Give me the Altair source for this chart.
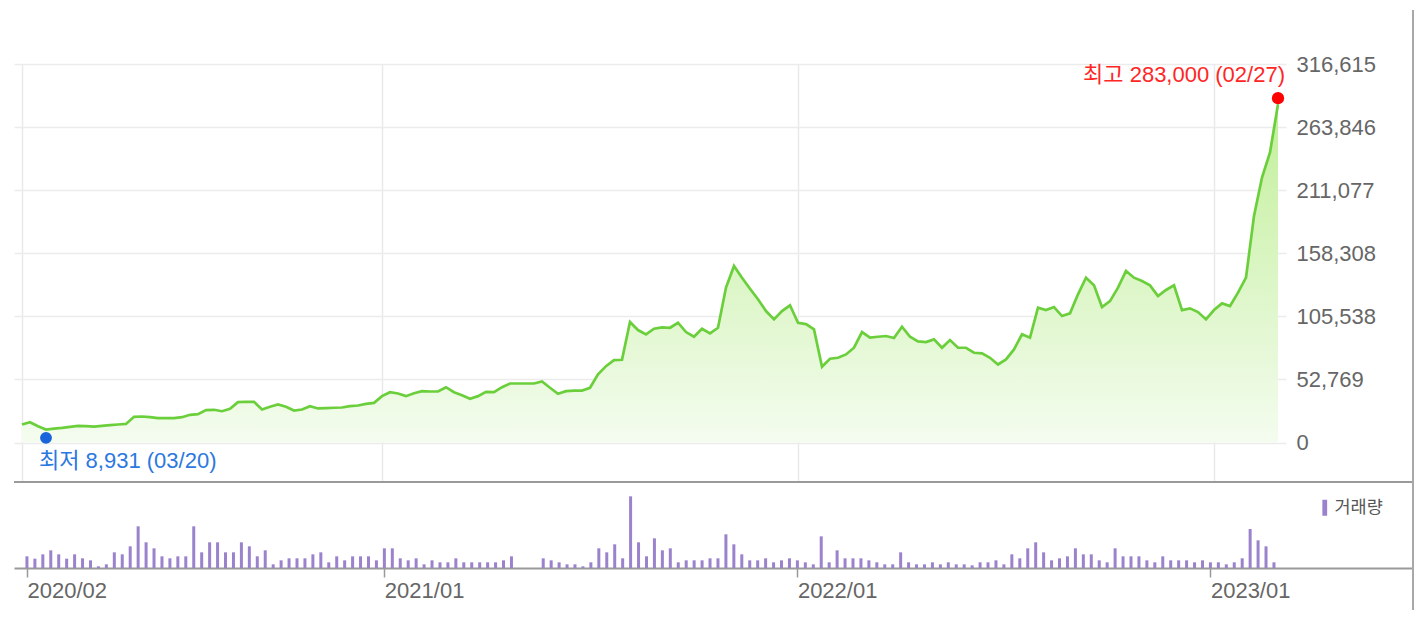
import altair as alt
import pandas as pd

# ---- data (weekly, week-start Mondays) ----
first_week = "2020-02-24"
prices = [
    15100, 17000, 13700, 10900, 11700, 12300, 13100, 14000, 13700, 13400,
    14000, 14500, 15100, 15600, 21500, 21800, 21200, 20400, 20400, 20400,
    21200, 23200, 23700, 27100, 27400, 26200, 28200, 33800, 34100, 34100,
    27600, 29900, 31800, 29900, 26800, 27600, 30400, 28500, 28800, 29100,
    29300, 30400, 31000, 32400, 33200, 38800, 42100, 41000, 38800, 41300,
    43000, 42700, 42700, 46300, 42100, 39600, 36600, 38800, 42400, 42100,
    46300, 49400, 49400, 49400, 49400, 51100, 45800, 40800, 43000, 43500,
    43500, 45800, 57000, 63900, 68900, 69200, 100800, 94100, 90500, 95200,
    96300, 96000, 100200, 92400, 88500, 95200, 91300, 96000, 129600, 147700,
    137900, 128700, 119800, 110000, 103000, 110000, 114800, 100200, 99100, 94600,
    63400, 70100, 70900, 73700, 79300, 92400, 87700, 88500, 89100, 87400,
    96900, 88500, 84600, 84000, 86300, 79300, 85700, 79300, 79300, 75100,
    74600, 70900, 65300, 69500, 77900, 90500, 87700, 112800, 110800, 113300,
    105800, 108100, 124000, 137900, 131500, 113300, 118300, 129600, 143500, 137900,
    135100, 131500, 122500, 127600, 131500, 110800, 112200, 109100, 103000, 110800,
    116400, 114200, 125400, 137900, 189600, 221700, 242600, 283000,
]
volumes = [
    350, 280, 410, 530, 410, 280, 410, 290, 230, 50,
    110, 470, 410, 650, 1250, 770, 590, 350, 290, 350,
    350, 1250, 470, 770, 770, 470, 470, 770, 650, 350,
    530, 110, 230, 290, 290, 290, 410, 470, 170, 350,
    230, 350, 350, 350, 230, 590, 590, 290, 230, 290,
    110, 230, 170, 170, 290, 170, 170, 170, 170, 170,
    230, 350, 0, 0, 0, 290, 230, 170, 110, 110,
    50, 170, 590, 470, 710, 290, 2150, 770, 350, 890,
    530, 590, 170, 230, 230, 230, 290, 290, 1010, 710,
    410, 230, 230, 290, 170, 230, 290, 230, 170, 110,
    950, 170, 530, 290, 290, 290, 230, 170, 110, 110,
    470, 170, 110, 110, 170, 110, 170, 110, 110, 80,
    170, 170, 230, 110, 410, 290, 590, 770, 470, 230,
    290, 350, 590, 410, 410, 230, 170, 590, 350, 350,
    350, 230, 170, 350, 230, 230, 230, 170, 230, 170,
    170, 110, 170, 290, 1170, 830, 650, 170,
]
volume_name = "거래량"
tick_dates = ["2020-02-24", "2021-01-04", "2022-01-03", "2023-01-02"]
y_ticks = [0, 52769, 105538, 158308, 211077, 263846, 316615]
y_min = -33000
high_week, high_value, high_day = "2023-02-27", 283000, "02/27"
low_week, low_value, low_day = "2020-03-16", 8931, "03/20"
vol_max = 2580

# ---- frames ----
weeks = pd.date_range(first_week, periods=len(prices), freq="7D")
df = pd.DataFrame({"week": weeks, "price": prices, "volume": volumes})
df["series"] = volume_name
high_df = pd.DataFrame({"week": [pd.Timestamp(high_week)], "price": [high_value],
                        "label": [f"최고 {high_value:,} ({high_day})"]})
low_df = pd.DataFrame({"week": [pd.Timestamp(low_week)], "price": [low_value],
                       "label": [f"최저 {low_value:,} ({low_day})"]})


def dt(ts):
    ts = pd.Timestamp(ts)
    return alt.DateTime(year=ts.year, month=ts.month, date=ts.day,
                        hours=ts.hour, minutes=ts.minute)


PW, PH = 1272, 418
VW, VH = 1399, 86
x_start = weeks[0] - pd.Timedelta(days=7)
x_end = weeks[-1] + pd.Timedelta(days=7)
x_end_vol = x_start + (x_end - x_start) * (VW / PW)
tick_dt = [dt(t) for t in tick_dates]

FONT = "Liberation Sans, Noto Sans CJK KR"

x_price = alt.X("week:T", scale=alt.Scale(domain=[dt(x_start), dt(x_end)]),
                axis=alt.Axis(values=tick_dt, labels=False, ticks=False, domain=False,
                              grid=True, gridColor="#e9e9e9", gridWidth=1.5, title=None))
y_price = alt.Y("price:Q",
                scale=alt.Scale(domain=[y_min, y_ticks[-1]], nice=False, zero=False),
                axis=alt.Axis(orient="right", values=y_ticks, format=",d", title=None,
                              ticks=False, tickSize=0, domain=False, labelPadding=10,
                              labelFontSize=22, labelFont=FONT, labelColor="#666666",
                              grid=True, gridColor="#ececec", gridWidth=1.5,
                              labelAlign="left", labelBaseline="middle"))

gradient = alt.Gradient(gradient="linear",
                        stops=[alt.GradientStop(color="#c2ef9a", offset=0),
                               alt.GradientStop(color="#f4fcef", offset=1)],
                        x1=0, x2=0, y1=0, y2=1)

base = alt.Chart(df).encode(x=x_price, y=y_price)
area = base.mark_area(color=gradient, opacity=1).encode(y2=alt.Y2Datum(0))
line = base.mark_line(color="#6bcf3c", strokeWidth=2.7)

high_pt = alt.Chart(high_df).mark_circle(size=150, color="#ff0000", opacity=1, yOffset=-6).encode(
    x="week:T", y="price:Q")
high_tx = alt.Chart(high_df).mark_text(align="right", baseline="middle", dx=7, dy=-29,
                                       fontSize=22, font=FONT, color="#ff2626").encode(
    x="week:T", y="price:Q", text="label:N")
low_pt = alt.Chart(low_df).mark_circle(size=140, color="#1a64dc", opacity=1, yOffset=6).encode(
    x="week:T", y="price:Q")
low_tx = alt.Chart(low_df).mark_text(align="left", baseline="middle", dx=-7, dy=29,
                                     fontSize=22, font=FONT, color="#2b78e0").encode(
    x="week:T", y="price:Q", text="label:N")

price = alt.layer(area, line, high_pt, high_tx, low_pt, low_tx).properties(width=PW, height=PH)

one = pd.DataFrame({"k": [0]})
bars = alt.Chart(df).mark_bar(size=3).encode(
    x=alt.X("week:T", scale=alt.Scale(domain=[dt(x_start), dt(x_end_vol)]),
            axis=alt.Axis(values=tick_dt, format="%Y/%m", title=None, grid=False,
                          labelAlign="left", labelBaseline="top", labelFontSize=22,
                          labelFont=FONT, labelColor="#666666", labelPadding=3,
                          labelOffset=0, labelFlush=False, labelOverlap=False,
                          tickSize=9, tickColor="#9a9a9a", tickWidth=1.5,
                          domainColor="#9a9a9a", domainWidth=2)),
    y=alt.Y("volume:Q", scale=alt.Scale(domain=[0, vol_max], nice=False), axis=None),
    color=alt.Color("series:N", scale=alt.Scale(range=["#9a82cc"]),
                    legend=alt.Legend(orient="none", legendX=1302, legendY=17, title=None,
                                      padding=0, symbolType="M-0.3,-1H0.3V1H-0.3Z",
                                      symbolSize=256, symbolStrokeWidth=0,
                                      labelFontSize=17.5, labelFont=FONT,
                                      labelColor="#555555", labelOffset=1)),
)
top_rule = alt.Chart(one).mark_rule(color="#9a9a9a", strokeWidth=2).encode(
    x=alt.value(0), x2=alt.value(VW), y=alt.value(0))
frame_rule = alt.Chart(one).mark_rule(color="#a8a8a8", strokeWidth=2).encode(
    x=alt.value(VW), y=alt.value(-472), y2=alt.value(128))
volume = alt.layer(bars, top_rule, frame_rule).properties(width=VW, height=VH)

chart = (
    alt.vconcat(price, volume, spacing=0, bounds="flush")
    .resolve_scale(x="independent", color="independent")
    .resolve_legend(color="independent")
    .properties(padding={"left": 4, "top": 0, "right": 0, "bottom": 0})
    .configure_view(stroke="transparent")
)

chart.save("out.html", embed_options={"renderer": "svg", "actions": False})
